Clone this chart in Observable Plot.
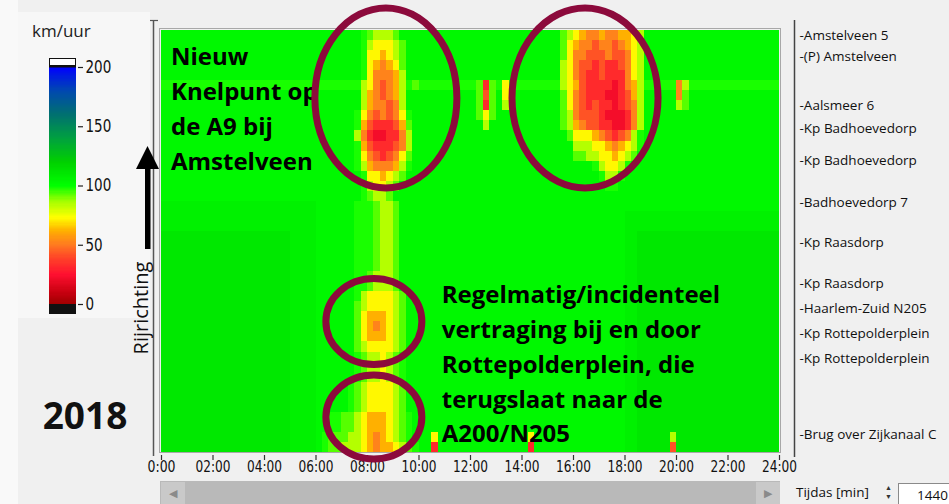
<!DOCTYPE html>
<html><head><meta charset="utf-8">
<script src="https://cdn.jsdelivr.net/npm/d3@7"></script>
<script src="https://cdn.jsdelivr.net/npm/@observablehq/plot@0.6"></script>
<style>
html,body{margin:0;padding:0;background:#f0f0f0;}
#wrap{position:relative;width:949px;height:504px;overflow:hidden;font-family:"Open Sans",sans-serif;background:#f0f0f0;}
#wrap > *{position:absolute;}
</style></head><body><div id="wrap"></div>
<script>
// ---------------- data ----------------
const timeStepMin = 15;          // one column = 15 minutes
const rowStepKm = 0.5;           // one row = 0.5 km of road
const kmTop = 21;                // road length shown
// speed (km/h) per cell code
const speedCodes = {X: 22, R: 32, r: 42, O: 52, o: 62, Y: 72, y: 84, l: 93, m: 98, g: 103, h: 106, G: 110};
// rows from top (Amstelveen) to bottom (Brug over Zijkanaal C); 12 groups of 8 quarter-hours
const speedRows = [
"gggggggg gggggggg gggggggg gggggggm lyyylggg gggggggg gggggggg ggggggly YoOOoOOo oYyggggg gggggggg gggggggg",
"gggggggg gggggggg gggggggg gggggggm yYYYylgg gggggggg gggggggg gggggglY oOOrOOrO oYyggggg gggggggg gggggggg",
"gggggggg gggggggg gggggggg gggggggm YYoYylgg gggggggg gggggggg gggggglY OOrrrOrr OYyggggg gggggggg gggggggg",
"gggggggg gggggggg gggggggg gggggggm YoOoYlgg gggggggg gggggggg ggggggyY OrrRrRRr OYyggggg gggggggg gggggggg",
"gggggggg gggggggg gggggggg gggggggm YOOOoygg gggggggg gggggggg ggggggyY OrRRrRRR OYyggggg gggggggg gggggggg",
"mmmmmmmm mmmmmmmm mmmmmmmm mmmmmmmy YOrOoyml mmmmmmmm mlRlmYmm mmmmmmyY orRRRRXR Ooymmmmm Oymmmmmm mmmmmmmm",
"gggggggg gggggggg gggggggg gggggggy oOrOoygg gggggggg glrlgYgg gggggglY OrRRRXXR royggggg Olgggggg gggggggg",
"gggggggg gggggggg gggggggg gggggggy oOOrOygg gggggggg glRlgygg gggggglY OrRrRRXR rOyggggg ylgggggg gggggggg",
"gggggggg gggggggg gggggggg ggggggmY OrOrOYmg gggggggg glYlgggg ggggggly OrrrRXXX ROyggggg gggggggg gggggggg",
"gggggggg gggggggg gggggggg ggggggmo rRRRrolg gggggggg ggyggggg ggggggly oOrrRRXX ROyggggg gggggggg gggggggg",
"gggggggg gggggggg gggggggg ggggggyO RXXRROyg gggggggg gggggggg gggggggl YYYoOrRr Oymggggg gggggggg gggggggg",
"gggggggg gggggggg gggggggg ggggggmo rRRRrOyg gggggggg gggggggg gggggggg yyyYYoOo Yymggggg gggggggg gggggggg",
"gggggggg gggggggg gggggggg ggggggmY OrRrOYlg gggggggg gggggggg gggggggg llyyYYoY ylgggggg gggggggg gggggggg",
"gggggggg gggggggg gggggggg ggggggmy oOOOoymg gggggggg gggggggg gggggggg gggmyYYy mggggggg gggggggg gggggggg",
"gggggggg gggggggg gggggggg gggggggm YYoYylgg gggggggg gggggggg gggggggg ggggmyym gggggggg gggggggg gggggggg",
"gggggggg gggggggg gggggggg gggggggm yYYylggg gggggggg gggggggg gggggggg gggggmmg gggggggg gggggggg gggggggg",
"gggggggg gggggggg gggggggg gggggggm lyylgggg gggggggg gggggggg gggggggg gggggggg gggggggg gggggggg gggggggg",
"hhhhhhhh hhhhhhhh hhhhhhhh ggggggmm mlyylggg gggggggg gggggggg gggggggg gggggggg gggggggg gggggggg gggggggg",
"hhhhhhhh hhhhhhhh hhhhhhhh ggggggmm mlyylggg gggggggg gggggggg gggggggg gggggggg hhhhhhhh hhhhhhhh hhhhhhhh",
"hhhhhhhh hhhhhhhh hhhhhhhh ggggggmm mlyylggg gggggggg gggggggg gggggggg gggggggg hhhhhhhh hhhhhhhh hhhhhhhh",
"GGGGGGGG GGGGGGGG GGGGhhhh ggggggmm mlyylggg gggggggg gggggggg gggggggg gggggggg hhGGGGGG GGGGGGGG GGGGGGGG",
"GGGGGGGG GGGGGGGG GGGGhhhh ggggggmm mlyylggg gggggggg gggggggg gggggggg gggggggg hhGGGGGG GGGGGGGG GGGGGGGG",
"GGGGGGGG GGGGGGGG GGGGhhhh ggggggmm mlyylggg gggggggg gggggggg gggggggg gggggggg hhGGGGGG GGGGGGGG GGGGGGGG",
"GGGGGGGG GGGGGGGG GGGGhhhh ggggggmm mlyylggg gggggggg gggggggg gggggggg gggggggg hhGGGGGG GGGGGGGG GGGGGGGG",
"GGGGGGGG GGGGGGGG GGGGhhhh ggggggmm lyyylggg gggggggg gggggggg gggggggg gggggggg hhGGGGGG GGGGGGGG GGGGGGGG",
"GGGGGGGG GGGGGGGG GGGGhhhh ggggggmm lyyylggg gggggggg gggggggg gggggggg gggggggg hhGGGGGG GGGGGGGG GGGGGGGG",
"GGGGGGGG GGGGGGGG GGGGhhhh ggggggmy YYYYylgg gggggggg gggggggg gggggggg gggggggg hhGGGGGG GGGGGGGG GGGGGGGG",
"GGGGGGGG GGGGGGGG GGGGhhhh ggggggly YYYYylgg gggggggg gggggggg gggggggg gggggggg hhGGGGGG GGGGGGGG GGGGGGGG",
"GGGGGGGG GGGGGGGG GGGGhhhh gggggglY oooYylgg gggggggg gggggggg gggggggg gggggggg hhGGGGGG GGGGGGGG GGGGGGGG",
"GGGGGGGG GGGGGGGG GGGGhhhh gggggglY oOoYylgg gggggggg gggggggg gggggggg gggggggg hhGGGGGG GGGGGGGG GGGGGGGG",
"GGGGGGGG GGGGGGGG GGGGhhhh gggggglY oooYylgg gggggggg gggggggg gggggggg gggggggg hhGGGGGG GGGGGGGG GGGGGGGG",
"GGGGGGGG GGGGGGGG GGGGhhhh ggggggly YYYYylgg gggggggg gggggggg gggggggg gggggggg hhGGGGGG GGGGGGGG GGGGGGGG",
"GGGGGGGG GGGGGGGG GGGGhhhh ggggggml yyYylmgg gggggggg gggggggg gggggggg gggggggg hhGGGGGG GGGGGGGG GGGGGGGG",
"GGGGGGGG GGGGGGGG GGGGhhhh ggggggml yyYylmgg gggggggg gggggggg gggggggg gggggggg hhGGGGGG GGGGGGGG GGGGGGGG",
"GGGGGGGG GGGGGGGG GGGGhhhh ggggggml yyYylmgg gggggggg gggggggg gggggggg gggggggg hhGGGGGG GGGGGGGG GGGGGGGG",
"GGGGGGGG GGGGGGGG GGGGhhhh gggggmly YYYYylgg gggggggg gggggggg gggggggg gggggggg hhGGGGGG GGGGGGGG GGGGGGGG",
"GGGGGGGG GGGGGGGG GGGGhhhh gggggmly YYYYylgg gggggggg gggggggg gggggggg gggggggg hhGGGGGG GGGGGGGG GGGGGGGG",
"GGGGGGGG GGGGGGGG GGGGhhhh gggggmly YYYYylgg gggggggg gggggggg gggggggg gggggggg hhGGGGGG GGGGGGGG GGGGGGGG",
"GGGGGGGG GGGGGGGG GGGGhhhh ggmmllyY oooYylmg gggggggg gggggggg gggggggg gggggggg hhGGGGGG GGGGGGGG GGGGGGGG",
"GGGGGGGG GGGGGGGG GGGGhhhh ggmmllyY oooYylmg gggggggg gggggggg gggggggg gggggggg hhGGGGGG GGGGGGGG GGGGGGGG",
"GGGGGGGG GGGGGGGG GGGGhhhh gmlllyyY oOoYylmg ggYggggg gggggggg gYgggggg gggggggg hhGGGGGy GGGGGGGG GGGGGGGG",
"GGGGGGGG GGGGGGGG GGGGhhhh gmllyyyY oOooYylm ggRggggg gggggggg gRgggggg gggggggg hhGGGGGr GGGGGGGG GGGGGGGG"
];
const locationNames = ["Amstelveen 5", "(P) Amstelveen", "Aalsmeer 6", "Kp Badhoevedorp", "Kp Badhoevedorp",
  "Badhoevedorp 7", "Kp Raasdorp", "Kp Raasdorp", "Haarlem-Zuid N205", "Kp Rottepolderplein",
  "Kp Rottepolderplein", "Brug over Zijkanaal C"];
const locationKm = [20.75, 19.71, 17.27, 16.12, 14.53, 12.44, 10.45, 8.41, 7.17, 5.92, 4.68, 0.9];
const timeTicks = [0, 120, 240, 360, 480, 600, 720, 840, 960, 1080, 1200, 1320, 1440];
const timeTickLabels = ["0:00", "02:00", "04:00", "06:00", "08:00", "10:00", "12:00", "14:00", "16:00", "18:00", "20:00", "22:00", "24:00"];
const legendTicks = [0, 50, 100, 150, 200];
const colorDomain = [0, 10, 25, 38, 50, 62, 73, 87, 100, 120, 140, 160, 180, 200];
const colorRange = ["#a00000", "#c80010", "#ff1030", "#ff4028", "#ff7a20", "#ffb000", "#ffff00", "#a0ff00",
  "#00ff00", "#00d000", "#00a040", "#007070", "#0048b0", "#0000ff"];
// annotations
const noteTexts = ["Nieuw\nKnelpunt op\nde A9 bij\nAmstelveen",
  "Regelmatig/incidenteel\nvertraging bij en door\nRottepolderplein, die\nterugslaat naar de\nA200/N205"];
const noteTime = [22, 653];
const noteKm = [20.5, 8.66];
const ellipseTime = [524, 988, 496, 496];
const ellipseKm = [17.62, 17.62, 6.49, 1.74];
const ellipseRx = [71, 73, 48, 48];
const ellipseRy = [90, 90, 43, 42];

// ---------------- build ----------------
const cells = [];
speedRows.forEach((row, r) => {
  const s = row.replace(/ /g, "");
  for (let c = 0; c < s.length; c++) {
    cells.push({t: c * timeStepMin, km: kmTop - (r + 1) * rowStepKm, speed: speedCodes[s[c]]});
  }
});
const colorOpts = {type: "linear", domain: colorDomain, range: colorRange, clamp: true};
const tickFont = '"DejaVu Sans", sans-serif';

const wrap = document.getElementById("wrap");
function box(l, t, w, h, css) {
  const d = document.createElement("div");
  d.style.cssText = `left:${l}px;top:${t}px;width:${w}px;height:${h}px;` + (css || "");
  wrap.appendChild(d); return d;
}
box(0, 0, 18, 504, "background:#f9f9f9;");
box(18, 12, 132, 306, "background:#f7f7f7;");

// colour legend
const legend = Plot.plot({
  width: 150, height: 330, margin: 0,
  x: {domain: [0, 1], range: [49, 76], axis: null},
  y: {domain: [0, 200], range: [304, 67], axis: null},
  color: colorOpts,
  style: {background: "transparent", overflow: "visible"},
  marks: [
    Plot.rect(d3.range(0, 200, 1), {x1: 0, x2: 1, y1: d => d, y2: d => d + 1, fill: d => d + 0.5, shapeRendering: "crispEdges"}),
    Plot.ruleY(legendTicks, {y: d => d, x1: 1, x2: 1, insetLeft: 2, insetRight: -7, stroke: "#222", strokeWidth: 1.2}),
    Plot.text(legendTicks, {x: 1, y: d => d, text: d => String(d), dx: 9, textAnchor: "start", fontSize: 17, fontFamily: tickFont, fill: "#111"})
  ]
});
legend.style.left = "0px"; legend.style.top = "0px";
wrap.appendChild(legend);
{
  const s = d3.select(legend);
  s.append("rect").attr("x", 49.5).attr("y", 58.5).attr("width", 26).attr("height", 7).attr("fill", "#fff").attr("stroke", "#111");
  s.append("rect").attr("x", 49).attr("y", 65).attr("width", 27).attr("height", 2.5).attr("fill", "#111");
  s.append("rect").attr("x", 49).attr("y", 304).attr("width", 27).attr("height", 10).attr("fill", "#111");
  s.selectAll("text").attr("textLength", function() { return this.textContent.length * 8.6; }).attr("lengthAdjust", "spacingAndGlyphs");
}
const kmLabel = box(32, 18, 90, 26, "font-size:17px;color:#222;line-height:26px;");
kmLabel.textContent = "km/uur";

// main heatmap
const main = Plot.plot({
  width: 949, height: 504,
  marginLeft: 161, marginRight: 170, marginTop: 30, marginBottom: 52,
  x: {domain: [0, 1440], axis: null},
  y: {domain: [0, kmTop], axis: null},
  color: colorOpts,
  style: {background: "transparent", overflow: "visible", fontFamily: "Open Sans, sans-serif"},
  marks: [
    Plot.rect(cells, {x1: "t", x2: d => d.t + timeStepMin, y1: "km", y2: d => d.km + rowStepKm, fill: "speed", shapeRendering: "crispEdges"}),
    Plot.ruleX(timeTicks, {x: d => d, y1: 0, y2: 0, insetTop: 3, insetBottom: -8, stroke: "#333", strokeWidth: 1.2}),
    Plot.text(timeTicks, {x: d => d, frameAnchor: "bottom", dy: 19, text: (d, i) => timeTickLabels[i], fontSize: 16, fontFamily: tickFont, fill: "#111"}),
    Plot.text(locationKm, {x: 1440, y: d => d, text: (d, i) => "-" + locationNames[i], dx: 20, textAnchor: "start", fontSize: 13.5, fill: "#111"}),
    Plot.text(noteTexts, {x: (d, i) => noteTime[i], y: (d, i) => noteKm[i], text: d => d, textAnchor: "start", lineAnchor: "top",
      lineHeight: 1.45, fontSize: 24, fontWeight: "bold", fill: "#000"})
  ]
});
main.style.left = "0px"; main.style.top = "0px";
wrap.appendChild(main);
{
  const s = d3.select(main);
  const xs = main.scale("x"), ys = main.scale("y");
  // condensed look for the time tick labels
  s.selectAll("text").filter(function() { return timeTickLabels.includes(this.textContent); })
    .attr("textLength", function() { return this.textContent.length === 4 ? 28 : 35; })
    .attr("lengthAdjust", "spacingAndGlyphs");
  // frame & window lines
  s.append("rect").attr("x", 159.5).attr("y", 28.5).attr("width", 621).attr("height", 424).attr("fill", "none").attr("stroke", "#a8a8a8");
  s.append("line").attr("x1", 153.5).attr("x2", 153.5).attr("y1", 20).attr("y2", 456).attr("stroke", "#555").attr("stroke-width", 1.5);
  s.append("line").attr("x1", 150).attr("x2", 158).attr("y1", 20.5).attr("y2", 20.5).attr("stroke", "#555").attr("stroke-width", 1.2);
  s.append("line").attr("x1", 794.5).attr("x2", 794.5).attr("y1", 20).attr("y2", 457).attr("stroke", "#444").attr("stroke-width", 1.5);
  // direction arrow
  s.append("path").attr("d", "M147.5,146 L136,169 L159,169 Z").attr("fill", "#000");
  s.append("rect").attr("x", 145).attr("y", 168).attr("width", 5.5).attr("height", 81).attr("fill", "#000");
  // ellipses
  ellipseTime.forEach((t, i) => {
    s.append("ellipse").attr("cx", xs.apply(t)).attr("cy", ys.apply(ellipseKm[i]))
      .attr("rx", ellipseRx[i]).attr("ry", ellipseRy[i])
      .attr("fill", "none").attr("stroke", "#8c0a3c").attr("stroke-width", 7);
  });
}

// other texts / widgets
const rij = box(81, 295, 120, 26, "font-size:20px;line-height:26px;text-align:center;color:#111;transform:rotate(-90deg);transform-origin:60px 13px;");
rij.textContent = "Rijrichting";
const yr = box(30, 392, 110, 46, "font-size:37px;font-weight:bold;line-height:46px;text-align:center;color:#111;");
yr.textContent = "2018";
box(160, 481, 620, 23, "background:#b9b9b9;");
const lb = box(161, 482, 24, 22, "background:#c9c9c9;color:#8a8a8a;font-size:11px;line-height:22px;text-align:center;");
lb.textContent = "◀";
const rb = box(756, 482, 24, 22, "background:#c9c9c9;color:#8a8a8a;font-size:11px;line-height:22px;text-align:center;");
rb.textContent = "▶";
const tl = box(796, 481, 90, 22, "font-size:13.5px;line-height:22px;color:#111;");
tl.textContent = "Tijdas [min]";
const sp = box(884, 483, 9, 20, "font-size:7px;line-height:9px;color:#333;text-align:center;");
sp.innerHTML = "▲<br>▼";
const vb = box(898, 483, 60, 22, "background:#fff;border:1px solid #8a8a8a;font-size:13.5px;line-height:22px;color:#111;padding-left:18px;box-sizing:border-box;");
vb.textContent = "1440";
</script>
</body></html>
